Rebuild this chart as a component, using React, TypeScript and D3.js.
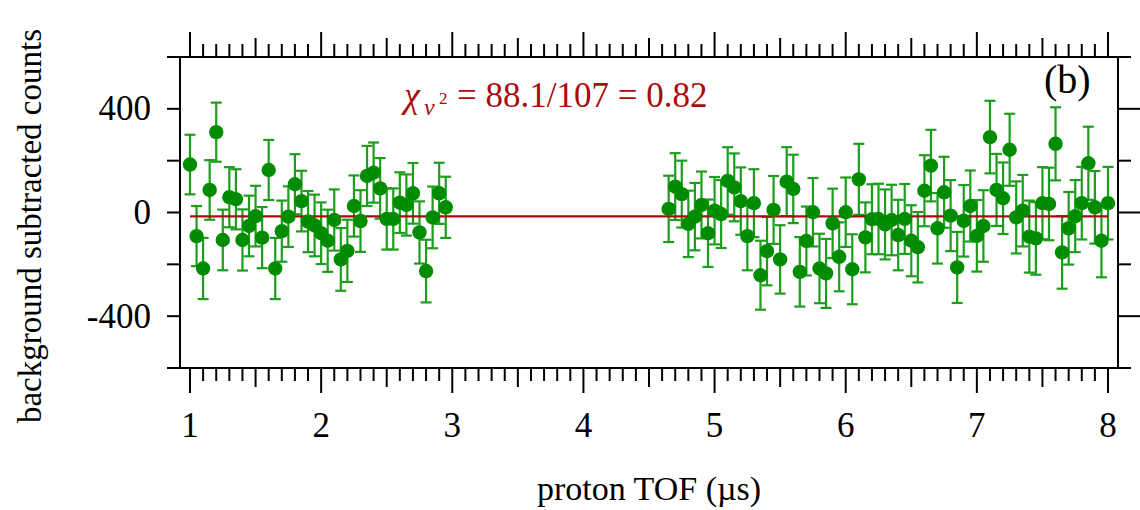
import React from "react";
import * as d3 from "d3";

// ---- data ----
const tofA = [1.0, 1.05, 1.1, 1.15, 1.2, 1.25, 1.3, 1.35, 1.4, 1.45, 1.5, 1.55, 1.6, 1.65, 1.7, 1.75, 1.8, 1.85, 1.9, 1.95,
  2.0, 2.05, 2.1, 2.15, 2.2, 2.25, 2.3, 2.35, 2.4, 2.45, 2.5, 2.55, 2.6, 2.65, 2.7, 2.75, 2.8, 2.85, 2.9, 2.95];
const countsA = [185, -91, -216, 87, 310, -106, 59, 51, -106, -52, -14, -97, 164, -216, -72, -16, 109, 44, -35, -50,
  -80, -109, -29, -181, -148, 25, -33, 141, 154, 93, -25, -25, 38, 29, 74, -77, -226, -19, 74, 20];
const errA = [115, 116, 118, 115, 114, 117, 116, 116, 118, 117, 117, 118, 116, 118, 118, 117, 116, 117, 118, 119,
  119, 120, 118, 121, 120, 118, 119, 116, 116, 117, 118, 118, 117, 118, 117, 120, 121, 119, 118, 118];

const tofB = [4.65, 4.7, 4.75, 4.8, 4.85, 4.9, 4.95,
  5.0, 5.05, 5.1, 5.15, 5.2, 5.25, 5.3, 5.35, 5.4, 5.45, 5.5, 5.55, 5.6, 5.65, 5.7, 5.75, 5.8, 5.85, 5.9, 5.95,
  6.0, 6.05, 6.1, 6.15, 6.2, 6.25, 6.3, 6.35, 6.4, 6.45, 6.5, 6.55, 6.6, 6.65, 6.7, 6.75, 6.8, 6.85, 6.9, 6.95,
  7.0, 7.05, 7.1, 7.15, 7.2, 7.25, 7.3, 7.35, 7.4, 7.45, 7.5, 7.55, 7.6, 7.65, 7.7, 7.75, 7.8, 7.85, 7.9, 7.95,
  8.0];
const countsB = [14, 100, 71, -44, -16, 29, -80,
  7, -6, 122, 97, 44, -91, 36, -242, -149, 10, -181, 119, 91, -229, -110, 1, -216, -235, -42, -171,
  1, -219, 128, -96, -26, -25, -46, -29, -87, -25, -109, -134, 84, 181, -61, 78, -12, -212, -32, 25,
  -90, -52, 291, 87, 55, 242, -19, 7, -93, -100, 36, 33, 265, -154, -61, -14, 36, 190, 20, -109,
  36];
const errB = [128, 129, 129, 128, 130, 129, 130,
  130, 131, 130, 131, 130, 132, 131, 133, 132, 131, 132, 133, 132, 134, 133, 132, 134, 133, 134, 133,
  134, 135, 137, 135, 135, 136, 135, 136, 136, 135, 137, 136, 137, 138, 136, 137, 137, 137, 138, 137,
  138, 138, 140, 139, 138, 139, 139, 138, 139, 140, 139, 140, 141, 140, 140, 139, 140, 141, 140, 141,
  140];

const fitLevel = -15;
const fitRange = [1, 8];

const xTickLabels = [1, 2, 3, 4, 5, 6, 7, 8];
const yTickLabels = [-400, 0, 400];
const yMinorTicks = [-600, -400, -200, 0, 200, 400, 600];

const xTitle = "proton TOF (\u00b5s)";
const yTitle = "background subtracted counts";
const panelLabel = "(b)";

export default function App() {
  const L = 180, R = 1118, T = 57, B = 368;
  const x = d3.scaleLinear().domain([1, 8]).range([190, 1108]);
  const y = d3.scaleLinear().domain([-600, 600]).range([B, T]);

  const points = [
    ...tofA.map((t, i) => ({ t, v: countsA[i], e: errA[i] })),
    ...tofB.map((t, i) => ({ t, v: countsB[i], e: errB[i] })),
  ];

  const xTicks = d3.range(10, 81).map((k) => k / 10);
  const font = "'Liberation Serif', 'Times New Roman', serif";
  const green = "#008c00";
  const barGreen = "#1c9e1c";
  const red = "#a80c0c";

  const line = d3.line<number>().x((d) => x(d)).y(() => y(fitLevel));

  return (
    <svg width={1140} height={510} style={{ position: "absolute", left: 0, top: 0, background: "#fff" }}>
      {/* frame */}
      <g stroke="#000" strokeWidth={2} fill="none">
        <line x1={167} x2={1131} y1={T} y2={T} />
        <line x1={167} x2={1131} y1={B} y2={B} />
        <line x1={L} x2={L} y1={T} y2={B} />
        <line x1={R} x2={R} y1={T} y2={B} />
        {xTicks.map((t, i) => {
          const k = Math.round(t * 10);
          const len = k % 10 === 0 ? 25 : k % 5 === 0 ? 19 : 13;
          return (
            <g key={i}>
              <line x1={x(t)} x2={x(t)} y1={B} y2={B + len} />
              <line x1={x(t)} x2={x(t)} y1={T} y2={T - len} />
            </g>
          );
        })}
        {yMinorTicks.map((v, i) => (
          <g key={"y" + i}>
            <line x1={L - 13} x2={L} y1={y(v)} y2={y(v)} />
            <line x1={R} x2={R + (v % 400 === 0 && Math.abs(v) < 600 ? 24 : 13)} y1={y(v)} y2={y(v)} />
          </g>
        ))}
      </g>

      {/* tick labels */}
      <g fontFamily={font} fontSize={35} fill="#000">
        {xTickLabels.map((t) => (
          <text key={t} x={x(t)} y={437} textAnchor="middle">{t}</text>
        ))}
        {yTickLabels.map((v) => (
          <text key={v} x={151} y={y(v) + 11.5} textAnchor="end">{v}</text>
        ))}
        <text x={649} y={500} textAnchor="middle" fontSize={34}>{xTitle}</text>
        <text transform="translate(41,226) rotate(-90)" textAnchor="middle" fontSize={33}>{yTitle}</text>
        <text x={1044} y={93} fontSize={40}>{panelLabel}</text>
      </g>

      {/* error bars */}
      <g stroke={barGreen} strokeWidth={2.2}>
        {points.map((p, i) => (
          <g key={i}>
            <line x1={x(p.t)} x2={x(p.t)} y1={y(p.v - p.e)} y2={y(p.v + p.e)} />
            <line x1={x(p.t) - 5.5} x2={x(p.t) + 5.5} y1={y(p.v - p.e)} y2={y(p.v - p.e)} />
            <line x1={x(p.t) - 5.5} x2={x(p.t) + 5.5} y1={y(p.v + p.e)} y2={y(p.v + p.e)} />
          </g>
        ))}
      </g>

      {/* fit line */}
      <path d={line(fitRange) || ""} stroke={red} strokeWidth={2.2} fill="none" />

      {/* markers */}
      <g fill={green}>
        {points.map((p, i) => (
          <circle key={i} cx={x(p.t)} cy={y(p.v)} r={7.2} />
        ))}
      </g>

      {/* chi-square annotation */}
      <g fontFamily={font} fill={red}>
        <text x={404} y={107} fontSize={36} fontStyle="italic">{"\u03c7"}</text>
        <text x={424} y={115} fontSize={24} fontStyle="italic">{"\u03bd"}</text>
        <text x={439} y={104} fontSize={17}>2</text>
        <text x={457} y={107} fontSize={35}>{"= 88.1/107 = 0.82"}</text>
      </g>
    </svg>
  );
}
